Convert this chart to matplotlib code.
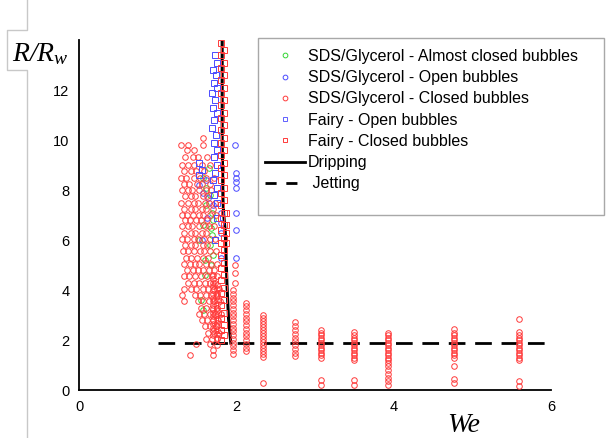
import numpy as np
import matplotlib
matplotlib.use("Agg")
import matplotlib.pyplot as plt
from matplotlib.lines import Line2D
from matplotlib.patches import Rectangle

plt.rcParams['font.family'] = ['Liberation Sans', 'DejaVu Sans']
plt.rcParams['mathtext.fontset'] = 'custom'
plt.rcParams['mathtext.it'] = 'Liberation Serif:italic'
plt.rcParams['mathtext.rm'] = 'Liberation Serif:italic'

# ---------------- data ----------------
# SDS/Glycerol - Closed bubbles: main cloud, rows of (y, [x values])
sds_closed_rows = [
    (10.1, [1.58]),
    (9.8, [1.30, 1.39, 1.58]),
    (9.6, [1.37, 1.46]),
    (9.3, [1.35, 1.45, 1.51, 1.63]),
    (9.0, [1.31, 1.39, 1.46, 1.56, 1.67]),
    (8.75, [1.33, 1.43, 1.49, 1.59]),
    (8.5, [1.30, 1.36, 1.46, 1.54, 1.61, 1.71]),
    (8.25, [1.34, 1.40, 1.50, 1.56, 1.66]),
    (8.0, [1.31, 1.39, 1.44, 1.53, 1.61, 1.68]),
    (7.75, [1.35, 1.43, 1.48, 1.57, 1.63]),
    (7.5, [1.30, 1.38, 1.46, 1.51, 1.60, 1.65, 1.73]),
    (7.25, [1.34, 1.42, 1.48, 1.56, 1.62, 1.70]),
    (7.0, [1.31, 1.37, 1.45, 1.53, 1.58, 1.67, 1.74]),
    (6.8, [1.35, 1.41, 1.49, 1.55, 1.63]),
    (6.55, [1.31, 1.39, 1.44, 1.52, 1.60, 1.65, 1.72]),
    (6.3, [1.33, 1.42, 1.48, 1.56, 1.61]),
    (6.05, [1.31, 1.37, 1.46, 1.51, 1.59, 1.67, 1.73]),
    (5.8, [1.35, 1.43, 1.48, 1.57, 1.63]),
    (5.55, [1.32, 1.38, 1.46, 1.54, 1.59, 1.67, 1.74]),
    (5.3, [1.36, 1.42, 1.50, 1.58, 1.64]),
    (5.05, [1.33, 1.41, 1.47, 1.53, 1.61, 1.68, 1.75]),
    (4.8, [1.37, 1.45, 1.51, 1.57, 1.65, 1.72]),
    (4.55, [1.34, 1.40, 1.48, 1.55, 1.63, 1.69, 1.76]),
    (4.3, [1.38, 1.46, 1.52, 1.60, 1.66, 1.73]),
    (4.05, [1.34, 1.42, 1.49, 1.57, 1.64, 1.71, 1.78]),
    (3.8, [1.31, 1.47, 1.54, 1.61, 1.68, 1.75]),
    (3.55, [1.33, 1.51, 1.58, 1.65, 1.72, 1.79]),
    (3.3, [1.55, 1.62, 1.69, 1.76]),
    (3.05, [1.52, 1.59, 1.66, 1.73, 1.80]),
    (2.8, [1.56, 1.63, 1.70, 1.77]),
    (2.55, [1.60, 1.67, 1.74]),
    (2.3, [1.64, 1.71, 1.78]),
    (2.05, [1.62, 1.69, 1.76]),
    (1.85, [1.49, 1.66]),
    (1.6, [1.70]),
    (1.4, [1.41, 1.70]),
]
# SDS/Glycerol - Closed bubbles: vertical columns of (x, [y values])
sds_closed_cols = [
    (1.70, [4.6, 4.45, 4.3, 4.15, 4.0, 3.85, 3.7, 3.55, 3.4, 3.25, 3.1, 2.95, 2.8, 2.65, 2.5, 2.35, 2.2]),
    (1.76, [4.2, 4.05, 3.9, 3.75, 3.6, 3.45, 3.3, 3.15, 3.0, 2.85, 2.7, 2.55, 2.4, 2.25, 2.1, 1.8]),
    (1.98, [5.0, 4.7, 4.3]),
    (1.96, [4.0, 3.85, 3.7, 3.55, 3.4, 3.25, 3.1, 2.95, 2.8, 2.65, 2.5, 2.35, 2.2, 2.05, 1.9, 1.75, 1.6, 1.45]),
    (2.12, [3.5, 3.35, 3.2, 3.05, 2.9, 2.75, 2.6, 2.45, 2.3, 2.15, 2.0, 1.85, 1.7, 1.55]),
    (2.34, [3.0, 2.88, 2.76, 2.64, 2.52, 2.4, 2.28, 2.16, 2.04, 1.92, 1.8, 1.68, 1.56, 1.44, 1.32, 0.28]),
    (2.74, [2.72, 2.55, 2.4, 2.25, 2.1, 1.95, 1.8, 1.65, 1.5, 1.35]),
    (3.08, [2.4, 2.3, 2.2, 2.1, 2.0, 1.9, 1.8, 1.7, 1.6, 1.5, 1.4, 1.3, 0.4, 0.22]),
    (3.50, [2.32, 2.2, 2.1, 2.0, 1.9, 1.8, 1.7, 1.6, 1.5, 1.4, 1.3, 1.2, 0.4, 0.2]),
    (3.93, [2.3, 2.2, 2.1, 2.0, 1.9, 1.8, 1.7, 1.6, 1.5, 1.4, 1.3, 1.2, 1.1, 0.95, 0.8, 0.65, 0.5, 0.35, 0.2]),
    (4.77, [2.44, 2.3, 2.2, 2.1, 2.0, 1.9, 1.8, 1.7, 1.6, 1.5, 1.4, 1.3, 0.96, 0.44, 0.28]),
    (5.59, [2.84, 2.32, 2.2, 2.1, 2.0, 1.9, 1.8, 1.7, 1.6, 1.5, 1.4, 1.3, 1.2, 0.36, 0.18]),
]
# SDS/Glycerol - Almost closed bubbles
sds_almost_x = [1.65, 1.58, 1.62, 1.66, 1.69, 1.70, 1.68, 1.69, 1.66, 1.70, 1.68, 1.60, 1.55, 1.58, 1.52, 1.57, 1.62, 1.60]
sds_almost_y = [8.9, 8.5, 8.1, 7.8, 7.1, 6.8, 6.5, 6.2, 5.8, 5.4, 5.0, 4.6, 3.6, 3.2, 6.0, 6.6, 7.4, 5.2]
# SDS/Glycerol - Open bubbles
sds_open_x = [1.98, 1.99, 1.99, 1.99, 1.99, 1.99, 1.99, 1.99, 1.80, 1.80, 1.80, 1.80, 1.70, 1.62, 1.58, 1.64, 1.52, 1.63, 1.56]
sds_open_y = [9.8, 8.7, 8.5, 8.3, 8.1, 7.1, 6.4, 5.3, 7.1, 6.7, 6.3, 5.3, 7.4, 8.4, 7.9, 7.7, 8.2, 6.9, 6.0]
# Fairy - Open bubbles
fairy_open_x = [1.73, 1.76, 1.70, 1.74, 1.71, 1.76, 1.69, 1.73, 1.70, 1.75, 1.72, 1.69, 1.74, 1.71,
                1.75, 1.72, 1.76, 1.73, 1.70, 1.75, 1.72, 1.76, 1.53, 1.56, 1.52, 1.75, 1.73]
fairy_open_y = [13.4, 13.1, 12.8, 12.6, 12.3, 12.1, 11.9, 11.6, 11.3, 11.1, 10.8, 10.5, 10.2, 9.9,
                9.6, 9.3, 9.0, 8.7, 8.4, 8.1, 7.8, 7.5, 9.1, 8.8, 8.6, 6.9, 6.0]
# Fairy - Closed bubbles: columns of (x, [y values])
fairy_closed_cols = [
    (1.80, [13.9, 13.4, 12.9, 12.4, 11.9, 11.4, 10.9, 10.4, 9.9, 9.4, 8.9, 8.4, 7.9, 7.4, 6.9,
            6.4, 5.9, 5.4, 4.9, 4.4, 3.9, 3.4, 2.9, 2.4, 2.0]),
    (1.84, [13.6, 13.1, 12.6, 12.1, 11.6, 11.1, 10.6, 10.1, 9.6, 9.1, 8.6, 8.1, 7.6, 7.1, 6.6,
            6.1, 5.6, 5.1, 4.6, 4.1, 3.6, 3.1, 2.6, 2.2]),
    (1.87, [7.1, 6.6, 6.3, 5.9]),
]
# Dripping / Jetting curves
drip_x = [1.82, 1.82, 1.83, 1.84, 1.86, 1.88, 1.90, 1.92, 1.93]
drip_y = [14.0, 10.0, 7.6, 7.0, 6.3, 4.3, 2.9, 2.2, 1.88]
jet_x = [1.0, 6.0]
jet_y = [1.88, 1.88]

labels = ["SDS/Glycerol - Almost closed bubbles", "SDS/Glycerol - Open bubbles",
          "SDS/Glycerol - Closed bubbles", "Fairy - Open bubbles", "Fairy - Closed bubbles",
          "Dripping", " Jetting"]
x_ticks = [0, 2, 4, 6]
y_ticks = [0, 2, 4, 6, 8, 10, 12]

# ------------- build arrays -------------
sc_x, sc_y = [], []
for y, xs in sds_closed_rows:
    sc_x += xs
    sc_y += [y] * len(xs)
for x, ys in sds_closed_cols:
    sc_x += [x] * len(ys)
    sc_y += ys
fc_x, fc_y = [], []
for x, ys in fairy_closed_cols:
    fc_x += [x] * len(ys)
    fc_y += ys

RED = '#ff3a3a'
GREEN = '#33d633'
BLUE = '#4a4aff'

W, H = 606, 438
fig = plt.figure(figsize=(W / 100, H / 100), dpi=100)
ax = fig.add_axes([79 / W, 1 - 390 / H, (551 - 79) / W, (390 - 40) / H])
ax.set_xlim(0, 6)
ax.set_ylim(0, 14)

ax.plot(drip_x, drip_y, color='black', lw=2.2, zorder=2)
ax.plot(jet_x, jet_y, color='black', lw=2.0, dashes=(6, 3.5), zorder=2)

mk = dict(linestyle='none', mfc='none', mew=0.7, zorder=3)
ax.plot(sds_almost_x, sds_almost_y, marker='o', ms=4.0, mec=GREEN, **mk)
ax.plot(sds_open_x, sds_open_y, marker='o', ms=4.0, mec=BLUE, **mk)
ax.plot(sc_x, sc_y, marker='o', ms=4.0, mec=RED, **mk)
ax.plot(fairy_open_x, fairy_open_y, marker='s', ms=3.8, mec=BLUE, **mk)
ax.plot(fc_x, fc_y, marker='s', ms=3.8, mec=RED, **mk)

for s in ['top', 'right']:
    ax.spines[s].set_visible(False)
for s in ['left', 'bottom']:
    ax.spines[s].set_linewidth(1.3)
ax.set_xticks(x_ticks)
ax.set_yticks(y_ticks)
ax.tick_params(length=0, labelsize=10.5, pad=7)

# legend box
fig.patches.append(Rectangle((258 / W, 1 - 215 / H), (604 - 258) / W, (215 - 38) / H,
                             transform=fig.transFigure, fill=False, edgecolor='#a8a8a8',
                             linewidth=1.0))
handles = [
    Line2D([], [], linestyle='none', marker='o', ms=3.4, mfc='none', mec=GREEN, mew=0.7),
    Line2D([], [], linestyle='none', marker='o', ms=3.4, mfc='none', mec=BLUE, mew=0.7),
    Line2D([], [], linestyle='none', marker='o', ms=3.4, mfc='none', mec=RED, mew=0.7),
    Line2D([], [], linestyle='none', marker='s', ms=3.4, mfc='none', mec='#6060ff', mew=0.7),
    Line2D([], [], linestyle='none', marker='s', ms=3.4, mfc='none', mec=RED, mew=0.7),
    Line2D([], [], color='black', lw=2.0),
    Line2D([], [], color='black', lw=2.0, dashes=(4, 3.5)),
]
fig.legend(handles, labels, loc='upper left', bbox_to_anchor=(265 / W, 1 - 49 / H),
           bbox_transform=fig.transFigure, frameon=False, fontsize=11.5, borderpad=0,
           borderaxespad=0, handlelength=2.5, handletextpad=0.2, labelspacing=0.39)

# axis labels
fig.text(12 / W, 1 - 61 / H, r'$R/R_w$', fontsize=20, va='baseline', ha='left')
fig.text(447 / W, 1 - 432 / H, 'We', fontsize=20, va='baseline', ha='left',
         family='Liberation Serif', style='italic')

# light grey frame at left
fig.add_artist(Line2D([27 / W, 27 / W, 7 / W, 7 / W, 27 / W, 27 / W],
                      [1, 1 - 30 / H, 1 - 30 / H, 1 - 70 / H, 1 - 70 / H, 0],
                      transform=fig.transFigure, color='#c8c8c8', lw=1.0))

fig.savefig('out.png', dpi=100)
